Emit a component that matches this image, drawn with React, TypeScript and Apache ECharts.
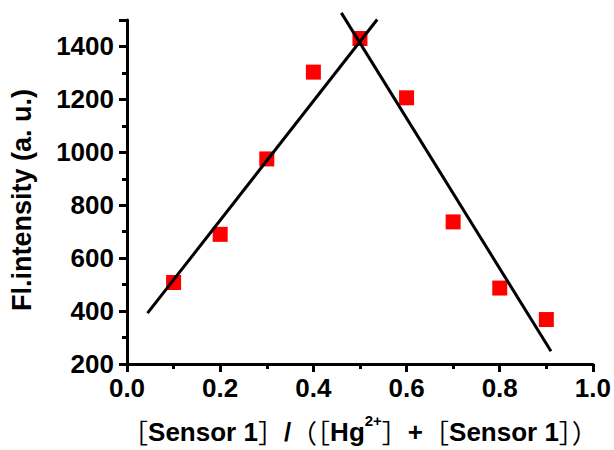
import React, { useEffect, useRef } from "react";
import * as echarts from "echarts";

const ratio = [0.1, 0.2, 0.3, 0.4, 0.5, 0.6, 0.7, 0.8, 0.9];
const intensity = [508, 690, 975, 1303, 1430, 1206, 737, 487, 368];
const fitRiseX = [0.044, 0.537];
const fitRiseY = [392, 1502];
const fitFallX = [0.46, 0.91];
const fitFallY = [1527, 248];
const yTicks = [200, 400, 600, 800, 1000, 1200, 1400];

export default function App() {
  const ref = useRef<HTMLDivElement>(null);
  useEffect(() => {
    if (!ref.current) return;
    const chart = echarts.init(ref.current, null, { renderer: "svg" });
    const font = "Liberation Sans, Arial, sans-serif";
    const cjk = "Noto Sans CJK SC, sans-serif";
    const mk = () => ({
      axisLine: { show: true, onZero: false, lineStyle: { color: "#000000", width: 3 } },
      axisTick: { show: true, inside: false, length: 8, lineStyle: { color: "#000000", width: 3 } },
      minorTick: { show: true, splitNumber: 2, length: 5, lineStyle: { color: "#000000", width: 3 } },
      splitLine: { show: false },
    });
    chart.setOption({
      animation: false,
      backgroundColor: "#ffffff",
      grid: { left: 127, right: 19, top: 20, bottom: 83, containLabel: false },
      xAxis: {
        type: "value",
        min: 0,
        max: 1,
        interval: 0.2,
        name:
          "{b|［}{t|Sensor 1}{b|］}{t|/}{b|（［}{t|Hg}{sup|2+}{b|］}{t|+}{b|［}{t|Sensor 1}{b|］）}",
        nameLocation: "middle",
        nameGap: 49,
        nameTextStyle: {
          rich: {
            t: { fontFamily: font, fontWeight: "bold", fontSize: 26, color: "#000", lineHeight: 32, verticalAlign: "bottom" },
            b: { fontFamily: cjk, fontWeight: "normal", fontSize: 26, color: "#000", lineHeight: 32, verticalAlign: "bottom" },
            sup: { fontFamily: font, fontWeight: "bold", fontSize: 15, color: "#000", lineHeight: 15, verticalAlign: "top" },
          },
        },
        ...mk(),
        axisLabel: {
          margin: 11,
          fontFamily: font,
          fontWeight: "bold",
          fontSize: 26,
          color: "#000",
          formatter: (v: number) => v.toFixed(1),
        },
      },
      yAxis: {
        type: "value",
        min: 200,
        max: 1500,
        interval: 200,
        name: "Fl.intensity (a. u.)",
        nameLocation: "middle",
        nameGap: 92,
        nameTextStyle: { fontFamily: font, fontWeight: "bold", fontSize: 27, color: "#000", padding: [0, 16, 0, 0] },
        ...mk(),
        axisLabel: {
          margin: 13,
          fontFamily: font,
          fontWeight: "bold",
          fontSize: 26,
          color: "#000",
          formatter: (v: number) => (yTicks.includes(v) ? String(v) : ""),
        },
      },
      series: [
        {
          type: "line",
          data: fitRiseX.map((x, i) => [x, fitRiseY[i]]),
          symbol: "none",
          clip: false,
          lineStyle: { color: "#000", width: 3 },
          z: 3,
        },
        {
          type: "line",
          data: fitFallX.map((x, i) => [x, fitFallY[i]]),
          symbol: "none",
          clip: false,
          lineStyle: { color: "#000", width: 3 },
          z: 3,
        },
        {
          type: "scatter",
          data: ratio.map((x, i) => [x, intensity[i]]),
          symbol: "rect",
          symbolSize: 15,
          itemStyle: { color: "#ff0000", opacity: 1 },
          z: 2,
        },
      ],
    });
    return () => chart.dispose();
  }, []);
  return <div ref={ref} style={{ width: 614, height: 450, position: "absolute", left: 0, top: 0 }} />;
}
